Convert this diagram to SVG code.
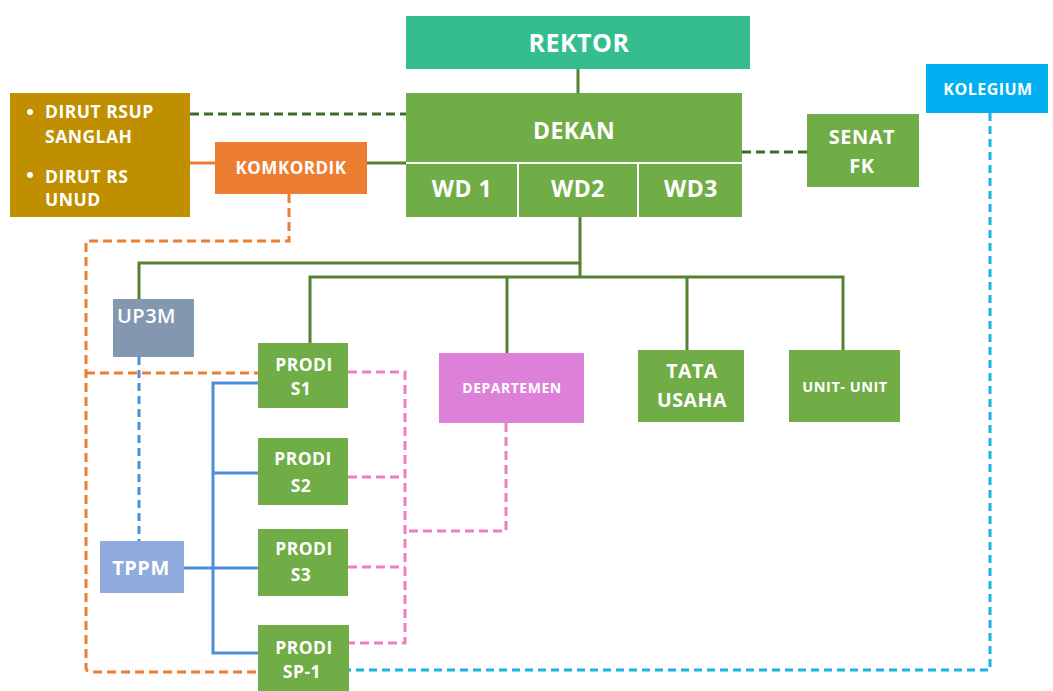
<svg xmlns="http://www.w3.org/2000/svg" width="1053" height="691" viewBox="0 0 1053 691">
<style>
.t{font-family:"Open Sans","Liberation Sans",sans-serif;font-weight:bold;fill:#fff;text-anchor:middle;letter-spacing:0.5px}
.l{text-anchor:start}
.g{fill:#70AD47}
.sg{stroke:#548235;stroke-width:3;fill:none}
.dg{stroke:#3F6B2A;stroke-width:3;fill:none;stroke-dasharray:9,5}
.or{stroke:#ED7D31;stroke-width:3;fill:none;stroke-dasharray:9,5}
.pk{stroke:#EE7EC2;stroke-width:3;fill:none;stroke-dasharray:9,5}
.bl{stroke:#4A8FD8;stroke-width:3;fill:none}
.bd{stroke:#4A8FD8;stroke-width:3;fill:none;stroke-dasharray:8,5}
.cy{stroke:#1FB0E6;stroke-width:3;fill:none;stroke-dasharray:8,5}
</style>
<rect width="1053" height="691" fill="#fff"/>
<g id="connectors">
<line class="sg" x1="578" y1="69" x2="578" y2="93"/>
<line class="dg" x1="190" y1="114" x2="406" y2="114"/>
<line x1="190" y1="163" x2="215" y2="163" stroke="#ED7D31" stroke-width="3"/>
<line class="sg" x1="367" y1="163" x2="406" y2="163"/>
<line class="dg" x1="742" y1="152" x2="807" y2="152"/>
<polyline class="sg" points="580,217 580,263 139,263 139,299"/>
<polyline class="sg" points="580,263 580,277"/>
<polyline class="sg" points="310,343 310,277 843,277 843,350"/>
<line class="sg" x1="507" y1="277" x2="507" y2="353"/>
<line class="sg" x1="687" y1="277" x2="687" y2="350"/>
<path class="or" d="M289,194 V241 H86 V667 Q86,672 91,672 H258"/>
<line class="or" x1="86" y1="373" x2="258" y2="373"/>
<line class="bd" x1="139" y1="357" x2="139" y2="541"/>
<polyline class="bl" points="258,383 213,383 213,653 258,653"/>
<line class="bl" x1="213" y1="473" x2="258" y2="473"/>
<line class="bl" x1="184" y1="568" x2="258" y2="568"/>
<polyline class="pk" points="348,372 405,372 405,643 348,643"/>
<line class="pk" x1="348" y1="477" x2="405" y2="477"/>
<line class="pk" x1="348" y1="567" x2="405" y2="567"/>
<polyline class="pk" points="506,423 506,531 405,531"/>
<polyline class="cy" points="990,113 990,670 348,670"/>
</g>
<g id="rektor"><rect x="406" y="16" width="344" height="53" fill="#35BC8F"/><text class="t" x="579" y="52" font-size="25">REKTOR</text></g>
<g id="dekan"><rect x="406" y="93" width="336" height="69" class="g"/><text class="t" x="574" y="139" font-size="23">DEKAN</text></g>
<g id="wd1"><rect x="406" y="164" width="111" height="53" class="g"/><text class="t" x="462" y="197" font-size="23">WD 1</text></g>
<g id="wd2"><rect x="519" y="164" width="118" height="53" class="g"/><text class="t" x="578" y="197" font-size="23">WD2</text></g>
<g id="wd3"><rect x="639" y="164" width="103" height="53" class="g"/><text class="t" x="691" y="197" font-size="23">WD3</text></g>
<g id="senat"><rect x="807" y="114" width="112" height="73" class="g"/><text class="t" x="862" y="144" font-size="20">SENAT</text><text class="t" x="862" y="173" font-size="20">FK</text></g>
<g id="kolegium"><rect x="926" y="64" width="122" height="49" fill="#00B0F0"/><text class="t" x="988" y="95" font-size="16">KOLEGIUM</text></g>
<g id="dirut"><rect x="10" y="93" width="180" height="124" fill="#BF8F00"/>
<circle cx="30" cy="112" r="3" fill="#fff"/><circle cx="30" cy="175" r="3" fill="#fff"/>
<text class="t l" x="45" y="118" font-size="17.5">DIRUT RSUP</text>
<text class="t l" x="45" y="143" font-size="17.5">SANGLAH</text>
<text class="t l" x="45" y="183" font-size="17.5">DIRUT RS</text>
<text class="t l" x="45" y="206" font-size="17.5">UNUD</text></g>
<g id="komkordik"><rect x="215" y="142" width="152" height="52" fill="#ED7D31"/><text class="t" x="291" y="174" font-size="17">KOMKORDIK</text></g>
<g id="up3m"><rect x="113" y="299" width="81" height="58" fill="#8497B0"/><text class="t l" style="font-weight:600" x="117" y="323" font-size="20">UP3M</text></g>
<g id="tppm"><rect x="100" y="541" width="84" height="52" fill="#8FAADC"/><text class="t" x="141" y="575" font-size="20">TPPM</text></g>
<g id="prodi-s1"><rect x="258" y="343" width="90" height="65" class="g"/><text class="t" x="304" y="371" font-size="17.5">PRODI</text><text class="t" x="301" y="395" font-size="17.5">S1</text></g>
<g id="prodi-s2"><rect x="258" y="438" width="90" height="67" class="g"/><text class="t" x="303" y="465" font-size="17.5">PRODI</text><text class="t" x="301" y="492" font-size="17.5">S2</text></g>
<g id="prodi-s3"><rect x="258" y="529" width="90" height="67" class="g"/><text class="t" x="304" y="555" font-size="17.5">PRODI</text><text class="t" x="301" y="581" font-size="17.5">S3</text></g>
<g id="prodi-sp1"><rect x="258" y="625" width="91" height="66" class="g"/><text class="t" x="304" y="654" font-size="17.5">PRODI</text><text class="t" x="302" y="678" font-size="17.5">SP-1</text></g>
<g id="departemen"><rect x="439" y="353" width="145" height="70" fill="#DD80D8"/><text class="t" x="512" y="393" font-size="14">DEPARTEMEN</text></g>
<g id="tata-usaha"><rect x="638" y="350" width="106" height="72" class="g"/><text class="t" x="692" y="378" font-size="19.5">TATA</text><text class="t" x="692" y="407" font-size="19.5">USAHA</text></g>
<g id="unit-unit"><rect x="789" y="350" width="111" height="72" class="g"/><text class="t" x="845" y="392" font-size="14.5">UNIT- UNIT</text></g>
</svg>
